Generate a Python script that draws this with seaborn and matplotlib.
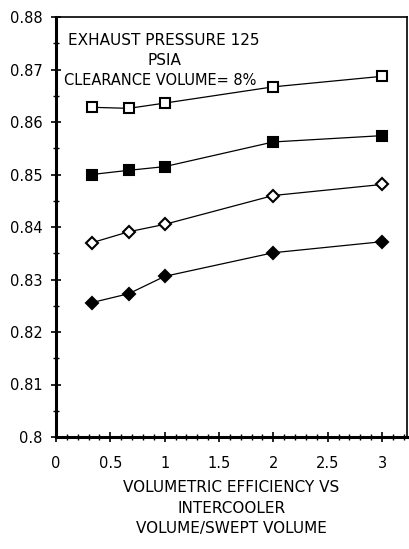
import matplotlib
matplotlib.use("Agg")
import matplotlib.pyplot as plt
from matplotlib.ticker import MultipleLocator
import seaborn as sns
import pandas as pd

x_vals = [0.33, 0.67, 1.0, 2.0, 3.0]
open_square = [0.8628, 0.8626, 0.8636, 0.8667, 0.8687]
filled_square = [0.8500, 0.8508, 0.8515, 0.8562, 0.8574]
open_diamond = [0.8370, 0.8391, 0.8405, 0.8460, 0.8481]
filled_diamond = [0.8256, 0.8273, 0.8306, 0.8351, 0.8372]
x_ticks = [0, 0.5, 1, 1.5, 2, 2.5, 3]
x_tick_labels = ["0", "0.5", "1", "1.5", "2", "2.5", "3"]
y_ticks = [0.80, 0.81, 0.82, 0.83, 0.84, 0.85, 0.86, 0.87, 0.88]
y_tick_labels = ["0.8", "0.81", "0.82", "0.83", "0.84", "0.85", "0.86", "0.87", "0.88"]

sns.set_style("ticks")
plt.rcParams['font.family'] = ['DejaVu Sans']
plt.rcParams['text.color'] = 'black'
plt.rcParams['axes.labelcolor'] = 'black'

fig = plt.figure(figsize=(4.1, 5.49), dpi=100)
ax = fig.add_axes([56/410, 1-437/549, (407-56)/410, (437-17)/549])

series = [
    (open_square, 's', 'white'),
    (filled_square, 's', 'black'),
    (open_diamond, 'D', 'white'),
    (filled_diamond, 'D', 'black'),
]
for vals, mk, fc in series:
    df = pd.DataFrame({"x": x_vals, "y": vals})
    sns.lineplot(data=df, x="x", y="y", ax=ax, color="black", lw=0.9,
                 marker=mk, markersize=7 if mk == 's' else 6.3,
                 markerfacecolor=fc, markeredgecolor="black", markeredgewidth=1.5)

ax.set_xlim(0, 3.23)
ax.set_ylim(0.80, 0.88)
ax.set_xticks(x_ticks)
ax.set_xticklabels(x_tick_labels)
ax.set_yticks(y_ticks)
ax.set_yticklabels(y_tick_labels)
ax.xaxis.set_minor_locator(MultipleLocator(0.1))
ax.yaxis.set_minor_locator(MultipleLocator(0.005))
ax.tick_params(axis='both', which='major', direction='inout', length=7, width=1.2,
               labelsize=10.5, colors='black')
ax.tick_params(axis='both', which='minor', direction='inout', length=5, width=1.0,
               colors='black')
ax.tick_params(axis='x', pad=10)
ax.tick_params(axis='y', pad=6)

for side in ['left', 'bottom']:
    ax.spines[side].set_linewidth(2.2)
for side in ['top', 'right']:
    ax.spines[side].set_visible(True)
    ax.spines[side].set_linewidth(1.2)
for s in ax.spines.values():
    s.set_color('black')

ax.set_xlabel("VOLUMETRIC EFFICIENCY VS\nINTERCOOLER\nVOLUME/SWEPT VOLUME",
              fontsize=11, linespacing=1.45, labelpad=7, color='black')
ax.set_ylabel("")

ax.text(0.035, 0.945, "EXHAUST PRESSURE 125", transform=ax.transAxes,
        fontsize=11, ha='left', va='center', color='black')
ax.text(0.31, 0.897, "PSIA", transform=ax.transAxes,
        fontsize=11, ha='center', va='center', color='black')
ax.text(0.022, 0.849, "CLEARANCE VOLUME= 8%", transform=ax.transAxes,
        fontsize=10.5, ha='left', va='center', color='black')

fig.savefig("out.png", dpi=100)
